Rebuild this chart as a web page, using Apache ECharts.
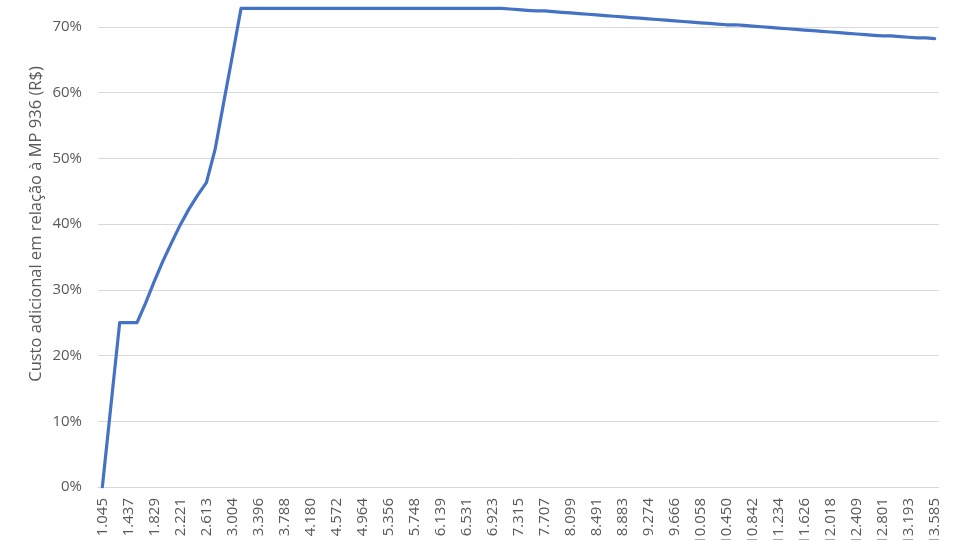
<!DOCTYPE html>
<html>
<head>
<meta charset="utf-8">
<script src="https://cdn.jsdelivr.net/npm/echarts@6/dist/echarts.min.js"></script>
<style>
html,body{margin:0;padding:0;background:#fff;}
#chart{width:960px;height:540px;}
</style>
</head>
<body>
<div id="chart"></div>
<script>
var categories = [
"1.045","1.176","1.306","1.437","1.568","1.698","1.829","1.959","2.090","2.221",
"2.351","2.482","2.613","2.743","2.874","3.004","3.135","3.266","3.396","3.527",
"3.658","3.788","3.919","4.049","4.180","4.311","4.441","4.572","4.703","4.833",
"4.964","5.094","5.225","5.356","5.486","5.617","5.748","5.878","6.009","6.139",
"6.270","6.401","6.531","6.662","6.793","6.923","7.054","7.184","7.315","7.446",
"7.576","7.707","7.838","7.968","8.099","8.229","8.360","8.491","8.621","8.752",
"8.883","9.013","9.144","9.274","9.405","9.536","9.666","9.797","9.928","10.058",
"10.189","10.319","10.450","10.581","10.711","10.842","10.973","11.103","11.234","11.364",
"11.495","11.626","11.756","11.887","12.018","12.148","12.279","12.409","12.540","12.671",
"12.801","12.932","13.063","13.193","13.324","13.454","13.585"
];
var custoAdicional = [
0.000,0.125,0.250,0.250,0.250,0.280,0.313,0.344,0.372,0.399,
0.423,0.444,0.463,0.513,0.585,0.656,0.728,0.728,0.728,0.728,
0.728,0.728,0.728,0.728,0.728,0.728,0.728,0.728,0.728,0.728,
0.728,0.728,0.728,0.728,0.728,0.728,0.728,0.728,0.728,0.728,
0.728,0.728,0.728,0.728,0.728,0.728,0.728,0.727,0.726,0.725,
0.724,0.724,0.723,0.722,0.721,0.720,0.719,0.718,0.717,0.716,
0.715,0.714,0.713,0.712,0.711,0.710,0.709,0.708,0.707,0.706,
0.705,0.704,0.703,0.703,0.702,0.701,0.700,0.699,0.698,0.697,
0.696,0.695,0.694,0.693,0.692,0.691,0.690,0.689,0.688,0.687,
0.686,0.686,0.685,0.684,0.683,0.683,0.682
];
var yAxisTitle = "Custo adicional em relação à MP 936 (R$)";

var chart = echarts.init(document.getElementById('chart'), null, {renderer:'canvas'});
chart.setOption({
  animation: false,
  backgroundColor: '#ffffff',
  textStyle: {fontFamily: 'Open Sans'},
  grid: {left: 98, right: 21, top: -39, bottom: 53, containLabel: false, outerBoundsMode: 'none'},
  xAxis: {
    type: 'category',
    data: categories,
    boundaryGap: true,
    axisLine: {show: true, lineStyle: {color: '#d9d9d9', width: 1}},
    axisTick: {show: false},
    axisLabel: {interval: 2, rotate: 90, margin: 11, color: '#595959', fontSize: 15, fontFamily: 'Open Sans'},
    splitLine: {show: false}
  },
  yAxis: {
    type: 'value',
    min: 0, max: 0.8, interval: 0.1,
    axisLine: {show: false},
    axisTick: {show: false},
    axisLabel: {margin: 16, color: '#595959', fontSize: 15, fontFamily: 'Open Sans',
      formatter: function (v) { return Math.round(v * 100) + '%'; }},
    splitLine: {show: true, lineStyle: {color: '#d9d9d9', width: 1}}
  },
  graphic: [{
    type: 'text',
    x: 36, y: 224,
    rotation: Math.PI / 2,
    style: {text: yAxisTitle, fill: '#595959', fontSize: 16.5, fontFamily: 'Open Sans', align: 'center', verticalAlign: 'middle'}
  }],
  series: [{
    type: 'line',
    data: custoAdicional,
    showSymbol: false,
    symbol: 'none',
    lineStyle: {color: '#4472C4', width: 3.2, cap: 'round', join: 'round'},
    itemStyle: {color: '#4472C4'}
  }]
});
</script>
</body>
</html>
